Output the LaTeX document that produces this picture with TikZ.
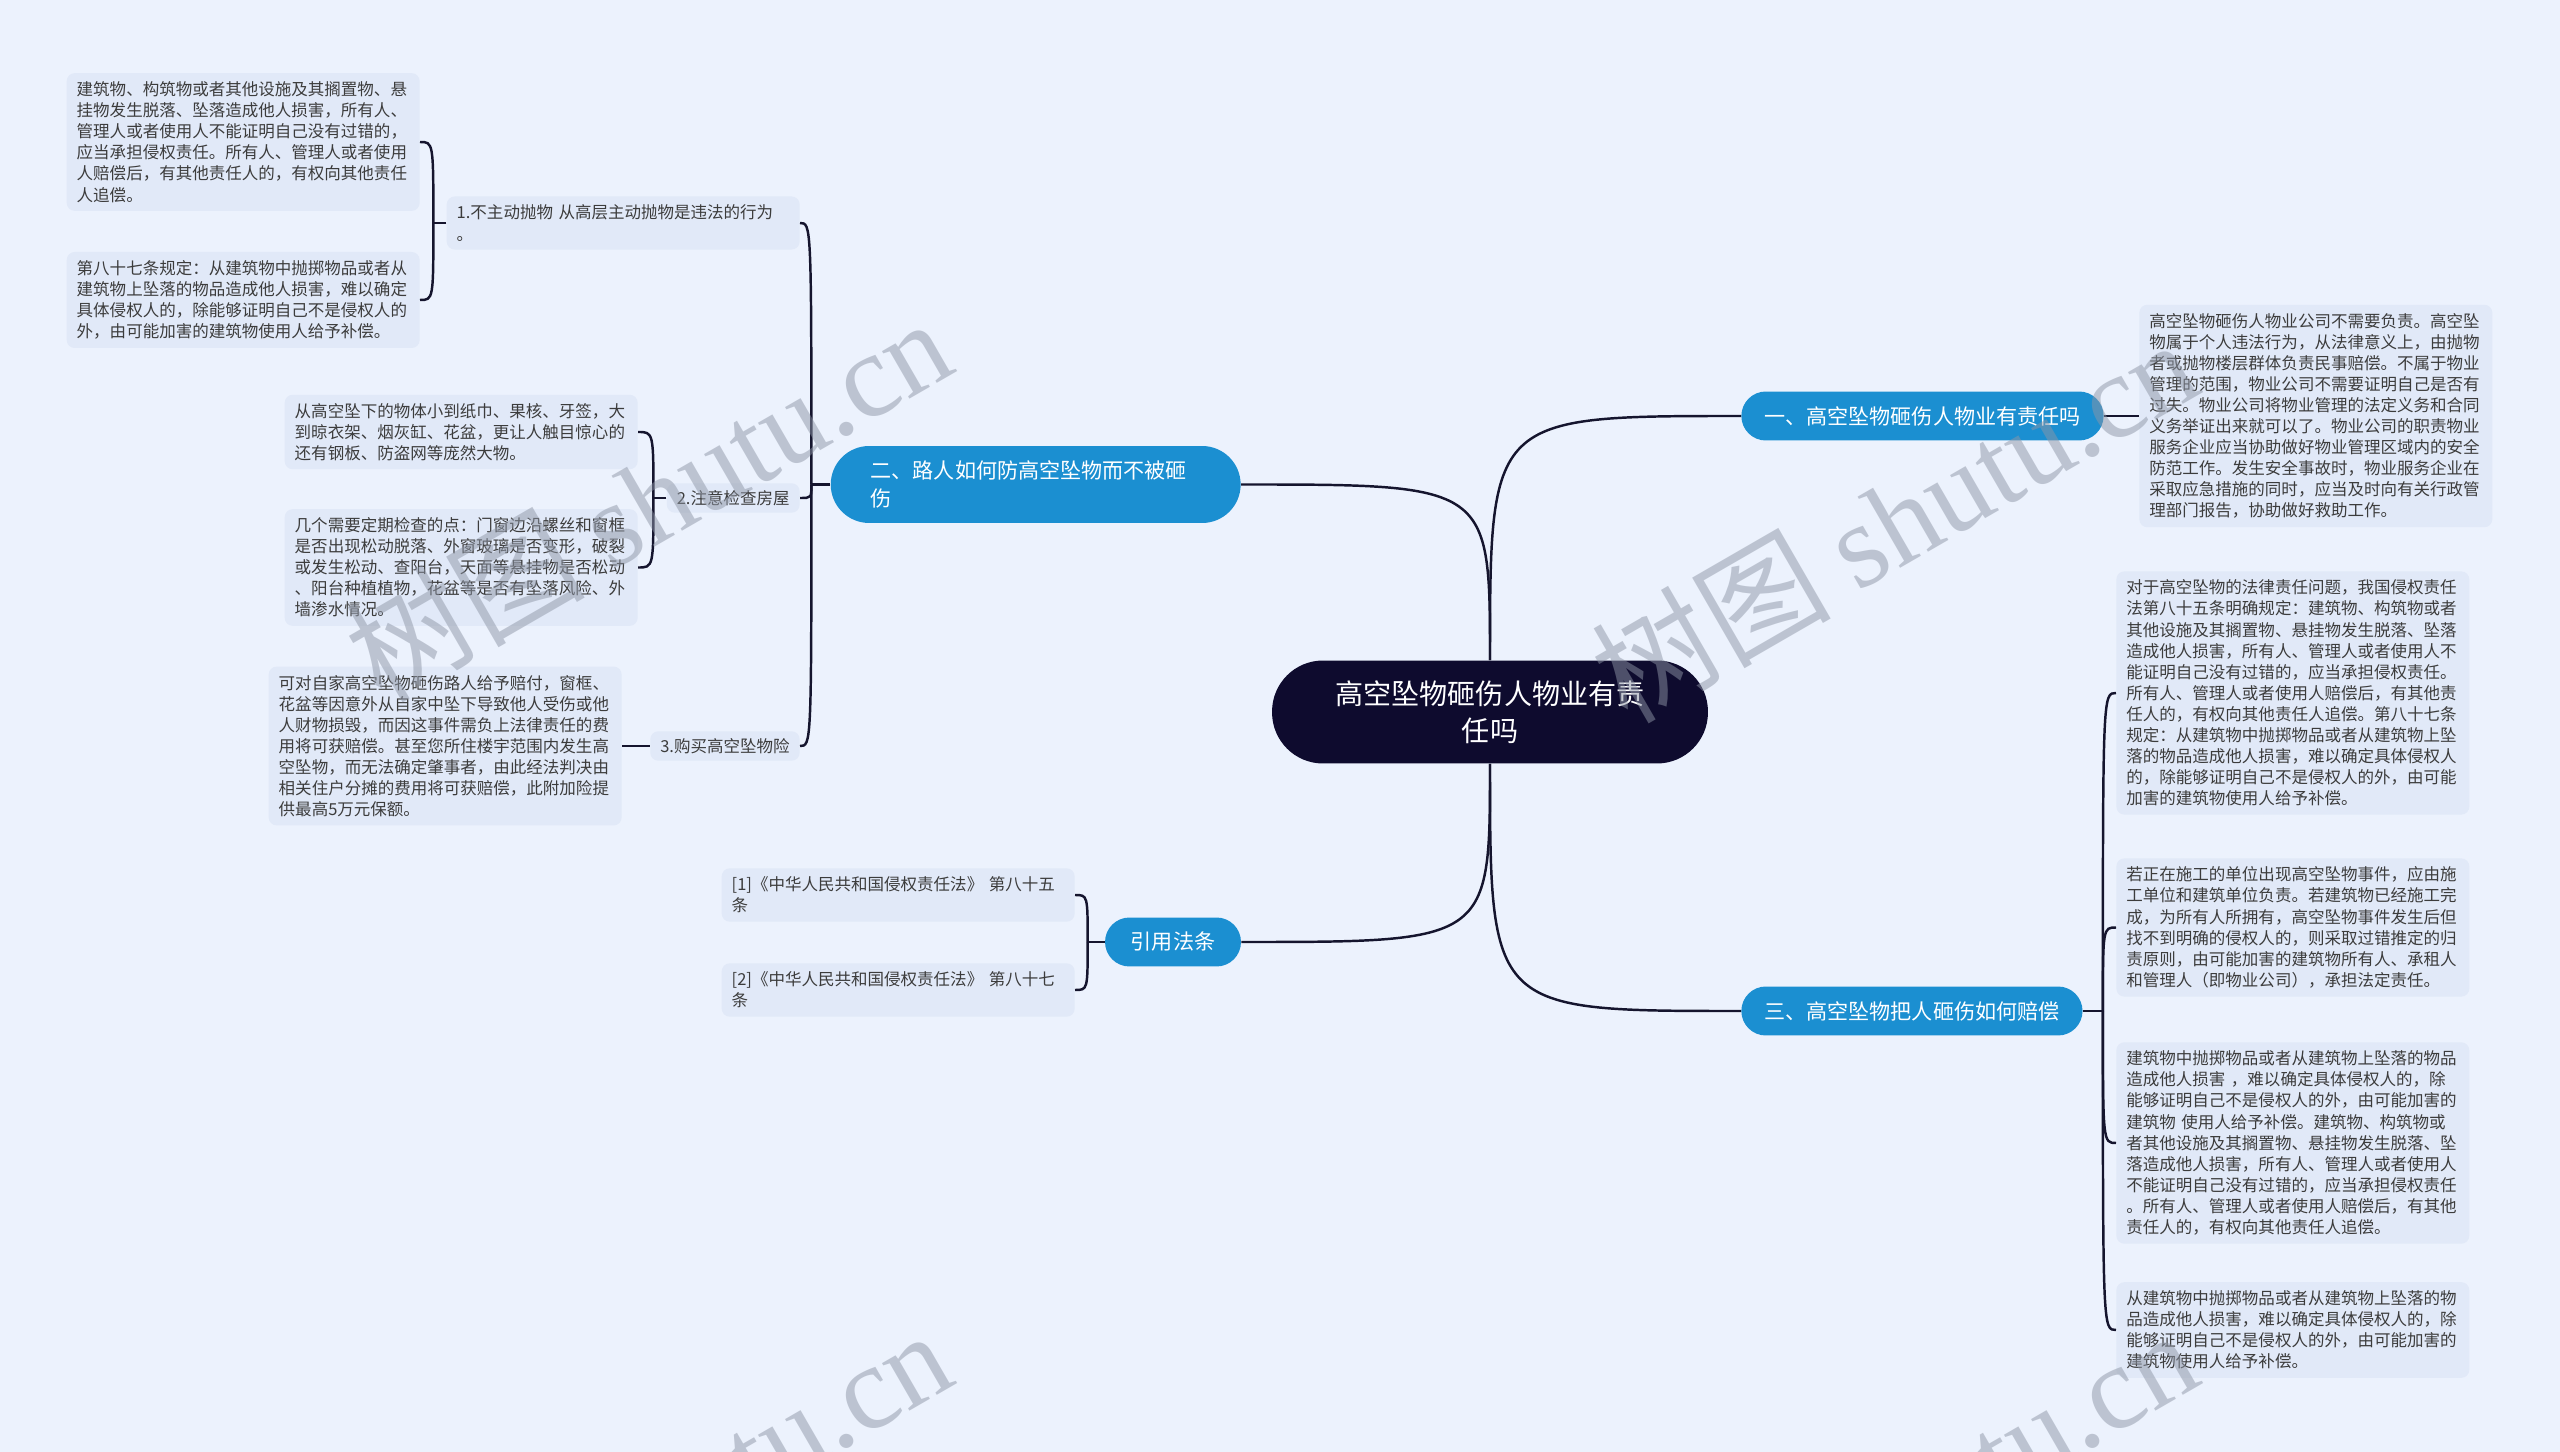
\documentclass[tikz,border=0pt]{standalone}
\usepackage{fontspec}
\setmainfont{Noto Sans CJK SC}
\newfontfamily\wmfont{Liberation Serif}
\usetikzlibrary{calc}
\definecolor{mapBg}{HTML}{ECF2FD}
\definecolor{leafFill}{HTML}{E1E9F8}
\definecolor{leafText}{HTML}{3C3C3C}
\definecolor{branchBlue}{HTML}{1B8FD1}
\definecolor{rootNavy}{HTML}{0E0B2E}
\definecolor{linkDark}{HTML}{15152E}
\definecolor{wmGray}{HTML}{8E96A6}

\begin{document}
\begin{tikzpicture}[
  x=0.02cm, y=-0.02cm,
  font=\fontsize{9.4pt}{12pt}\selectfont,
  root/.style={
    fill=rootNavy, text=white, rounded corners=1.02cm,
    minimum width=8.72cm, minimum height=2.06cm,
    text width=6.4cm, align=center,
    font=\fontsize{16pt}{21.3pt}\selectfont
  },
  branch/.style={
    fill=branchBlue, text=white, rounded corners=0.49cm,
    minimum height=0.98cm, inner xsep=0.46cm,
    font=\fontsize{12pt}{16pt}\selectfont
  },
  leaf/.style={
    fill=leafFill, text=leafText, rounded corners=0.16cm,
    text width=6.66cm, inner xsep=0.2cm, inner ysep=0.17cm, align=left
  },
  topic/.style={fill=leafFill, text=leafText, rounded corners=0.16cm,
    inner xsep=0.2cm, inner ysep=0.14cm},
  link/.style={draw=linkDark, line width=1.4pt},
  wmark/.style={text=wmGray, opacity=0.5, rotate=30,
    font=\fontsize{68pt}{68pt}\selectfont}
]

\fill[mapBg] (0,0) rectangle (2560,1452);
\useasboundingbox (0,0) rectangle (2560,1452);

% centre and main branches
\node[root] (root) at (1490,712) {高空坠物砸伤人物业有责\\任吗};
\node[branch, anchor=west] (b1) at (1741,416) {一、高空坠物砸伤人物业有责任吗};
\node[branch, anchor=east, text width=6.6cm, align=left, minimum width=8.2cm,
  minimum height=1.54cm, rounded corners=0.77cm] (b2) at (1241,484.5)
  {二、路人如何防高空坠物而不被砸\\伤};
\node[branch, anchor=west] (b3) at (1741,1011) {三、高空坠物把人砸伤如何赔偿};
\node[branch, minimum width=2.72cm] (b4) at (1173,942) {引用法条};

% left side topics
\node[leaf, anchor=east] (t1) at (800,223) {1.不主动抛物~从高层主动抛物是违法的行为\\。};
\node[topic, anchor=east] (t2) at (800,498) {2.注意检查房屋};
\node[topic, anchor=east] (t3) at (800,746) {3.购买高空坠物险};

\node[leaf, anchor=east] (l1a) at (420,142) {建筑物、构筑物或者其他设施及其搁置物、悬\\挂物发生脱落、坠落造成他人损害，所有人、\\管理人或者使用人不能证明自己没有过错的，\\应当承担侵权责任。所有人、管理人或者使用\\人赔偿后，有其他责任人的，有权向其他责任\\人追偿。};
\node[leaf, anchor=east] (l1b) at (420,300) {第八十七条规定：从建筑物中抛掷物品或者从\\建筑物上坠落的物品造成他人损害，难以确定\\具体侵权人的，除能够证明自己不是侵权人的\\外，由可能加害的建筑物使用人给予补偿。};
\node[leaf, anchor=east] (l2a) at (638,432) {从高空坠下的物体小到纸巾、果核、牙签，大\\到晾衣架、烟灰缸、花盆，更让人触目惊心的\\还有钢板、防盗网等庞然大物。};
\node[leaf, anchor=east] (l2b) at (638,567.5) {几个需要定期检查的点：门窗边沿螺丝和窗框\\是否出现松动脱落、外窗玻璃是否变形，破裂\\或发生松动、查阳台，天面等悬挂物是否松动\\、阳台种植植物，花盆等是否有坠落风险、外\\墙渗水情况。};
\node[leaf, anchor=east] (l3) at (622,746) {可对自家高空坠物砸伤路人给予赔付，窗框、\\花盆等因意外从自家中坠下导致他人受伤或他\\人财物损毁，而因这事件需负上法律责任的费\\用将可获赔偿。甚至您所住楼宇范围内发生高\\空坠物，而无法确定肇事者，由此经法判决由\\相关住户分摊的费用将可获赔偿，此附加险提\\供最高5万元保额。};

% cited articles
\node[leaf, anchor=east] (ref1) at (1075,895) {[1]《中华人民共和国侵权责任法》~第八十五\\条};
\node[leaf, anchor=east] (ref2) at (1075,990) {[2]《中华人民共和国侵权责任法》~第八十七\\条};

% right side
\node[leaf, anchor=west] (r1) at (2139,416) {高空坠物砸伤人物业公司不需要负责。高空坠\\物属于个人违法行为，从法律意义上，由抛物\\者或抛物楼层群体负责民事赔偿。不属于物业\\管理的范围，物业公司不需要证明自己是否有\\过失。物业公司将物业管理的法定义务和合同\\义务举证出来就可以了。物业公司的职责物业\\服务企业应当协助做好物业管理区域内的安全\\防范工作。发生安全事故时，物业服务企业在\\采取应急措施的同时，应当及时向有关行政管\\理部门报告，协助做好救助工作。};
\node[leaf, anchor=west] (r3a) at (2116,693) {对于高空坠物的法律责任问题，我国侵权责任\\法第八十五条明确规定：建筑物、构筑物或者\\其他设施及其搁置物、悬挂物发生脱落、坠落\\造成他人损害，所有人、管理人或者使用人不\\能证明自己没有过错的，应当承担侵权责任。\\所有人、管理人或者使用人赔偿后，有其他责\\任人的，有权向其他责任人追偿。第八十七条\\规定：从建筑物中抛掷物品或者从建筑物上坠\\落的物品造成他人损害，难以确定具体侵权人\\的，除能够证明自己不是侵权人的外，由可能\\加害的建筑物使用人给予补偿。};
\node[leaf, anchor=west] (r3b) at (2116,927.5) {若正在施工的单位出现高空坠物事件，应由施\\工单位和建筑单位负责。若建筑物已经施工完\\成，为所有人所拥有，高空坠物事件发生后但\\找不到明确的侵权人的，则采取过错推定的归\\责原则，由可能加害的建筑物所有人、承租人\\和管理人（即物业公司），承担法定责任。};
\node[leaf, anchor=west] (r3c) at (2116,1143) {建筑物中抛掷物品或者从建筑物上坠落的物品\\造成他人损害~，难以确定具体侵权人的，除\\能够证明自己不是侵权人的外，由可能加害的\\建筑物~使用人给予补偿。建筑物、构筑物或\\者其他设施及其搁置物、悬挂物发生脱落、坠\\落造成他人损害，所有人、管理人或者使用人\\不能证明自己没有过错的，应当承担侵权责任\\。所有人、管理人或者使用人赔偿后，有其他\\责任人的，有权向其他责任人追偿。};
\node[leaf, anchor=west] (r3d) at (2116,1330) {从建筑物中抛掷物品或者从建筑物上坠落的物\\品造成他人损害，难以确定具体侵权人的，除\\能够证明自己不是侵权人的外，由可能加害的\\建筑物使用人给予补偿。};

% root to branches
\draw[link] (root.north) .. controls (root.north |- b1.west) .. (b1.west);
\draw[link] (root.north) .. controls (root.north |- b2.east) .. (b2.east);
\draw[link] (root.south) .. controls (root.south |- b3.west) .. (b3.west);
\draw[link] (root.south) .. controls (root.south |- b4.east) .. (b4.east);

% junctions
\coordinate (j2) at ([xshift=-0.38cm]b2.west);
\coordinate (jt1) at ([xshift=-0.26cm]t1.west);
\coordinate (jt2) at ([xshift=-0.26cm]t2.west);
\coordinate (j4) at ([xshift=-0.34cm]b4.west);
\coordinate (j3) at ([xshift=0.4cm]b3.east);

\draw[link] (b2.west) -- (j2);
\foreach \n in {t1,t2,t3}
  \draw[link] (j2) .. controls (j2 |- \n.east) .. (\n.east);
\draw[link] (t1.west) -- (jt1);
\foreach \n in {l1a,l1b}
  \draw[link] (jt1) .. controls (jt1 |- \n.east) .. (\n.east);
\draw[link] (t2.west) -- (jt2);
\foreach \n in {l2a,l2b}
  \draw[link] (jt2) .. controls (jt2 |- \n.east) .. (\n.east);
\draw[link] (t3.west) -- (l3.east);
\draw[link] (b4.west) -- (j4);
\foreach \n in {ref1,ref2}
  \draw[link] (j4) .. controls (j4 |- \n.east) .. (\n.east);
\draw[link] (b1.east) -- (r1.west);
\draw[link] (b3.east) -- (j3);
\foreach \n in {r3a,r3b,r3c,r3d}
  \draw[link] (j3) .. controls (j3 |- \n.west) .. (\n.west);

% watermark
\begin{scope}
\clip (0,0) rectangle (2560,1452);
\foreach \wx/\wy [count=\i] in {648/498,1894/519,648/1510,1894/1510}
  \node[wmark] (wm\i) at (\wx,\wy) {树图 {\wmfont shutu.cn}};
\end{scope}

\end{tikzpicture}
\end{document}
